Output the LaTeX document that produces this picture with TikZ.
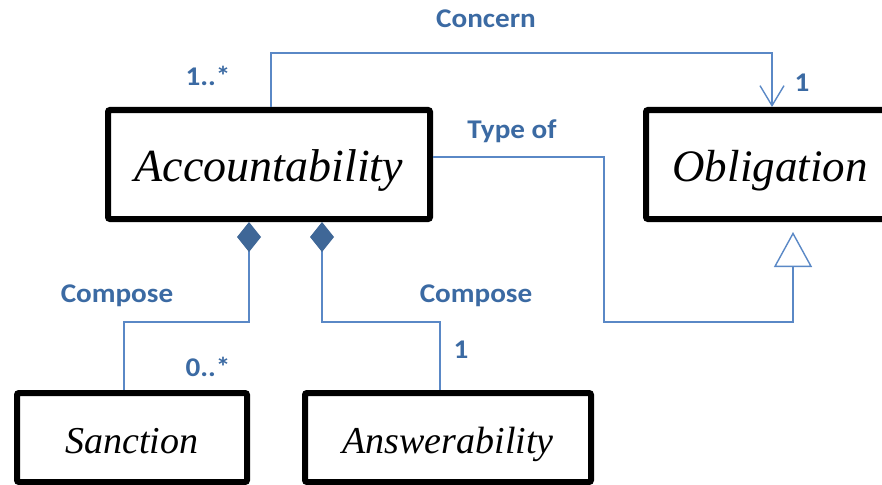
\documentclass[tikz,border=0pt]{standalone}
\usepackage{fontspec}
\setmainfont{Liberation Serif}
\newfontfamily\labfont[FakeStretch=1.08]{Carlito}
\usetikzlibrary{arrows.meta,calc}
\definecolor{conncol}{HTML}{5A88C6}
\definecolor{labcol}{HTML}{3B6AA3}
\definecolor{diacol}{HTML}{3F6797}
\tikzset{
  classbox/.style={draw=black, line width=6pt, rounded corners=2pt, fill=white, inner sep=0pt, font=\itshape, text depth=0pt},
  conn/.style={draw=conncol, line width=1.4pt},
  lbl/.style={text=labcol, font=\labfont\bfseries\fontsize{27}{30}\selectfont, inner sep=0pt},
  comp/.style={{Diamond[length=30pt,width=24pt,color=diacol,fill=diacol]}-},
}
\begin{document}
\begin{tikzpicture}[x=1pt,y=-1pt]
\clip (0,0) rectangle (882,484);
\fill[white] (0,0) rectangle (882,484);
% classes
\node[classbox, minimum width=322pt, minimum height=109pt, text height=33pt] (acc) at (269,164.5) {\fontsize{46}{50}\selectfont Accountability};
\node[classbox, minimum width=270pt, minimum height=109pt, text height=33pt] (obl) at (781,164.5) {\fontsize{45}{49}\selectfont Obligation\hspace*{22pt}};
\node[classbox, minimum width=230pt, minimum height=89pt, text height=31pt] (san) at (132,437.5) {\fontsize{38}{42}\selectfont Sanction};
\node[classbox, minimum width=286pt, minimum height=89pt, text height=31pt] (ans) at (448,437.5) {\fontsize{38}{42}\selectfont Answerability};
% helper coordinates
\coordinate (cA) at (271,53);
\coordinate (cB) at (772,53);
\coordinate (tA) at (604,157);
\coordinate (tB) at (604,322);
\coordinate (tC) at (793,322);
\coordinate (d1) at (249,322);
\coordinate (s1) at (124,322);
\coordinate (d2) at (322,322);
\coordinate (a1) at (440,322);
% Concern association
\draw[conn, -{Straight Barb[length=20pt,width=24pt,line width=1.4pt]}] (acc.north -| cA) -- (cA) -- (cB) -- (obl.north -| cB);
% Type of generalization
\draw[conn, -{Triangle[open,length=35pt,width=38pt,fill=white]}, shorten >=10pt] (acc.east |- tA) -- (tA) -- (tB) -- (tC) -- (obl.south -| tC);
% Compose compositions
\draw[conn, comp] (acc.south -| d1) -- (d1) -- (s1) -- (san.north -| s1);
\draw[conn, comp] (acc.south -| d2) -- (d2) -- (a1) -- (ans.north -| a1);
% labels
\node[lbl] (lconcern) at (486,19) {Concern};
\node[lbl] (lmany) at (208,76) {1..*};
\node[lbl] (lone) at (802,83) {1};
\node[lbl] (ltype) at (512,131) {Type of};
\node[lbl] (lcomp1) at (117,296) {Compose};
\node[lbl] (lcomp2) at (476,296) {Compose};
\node[lbl] (lzero) at (208,367) {0..*};
\node[lbl] (lone2) at (461,350) {1};
\end{tikzpicture}
\end{document}
